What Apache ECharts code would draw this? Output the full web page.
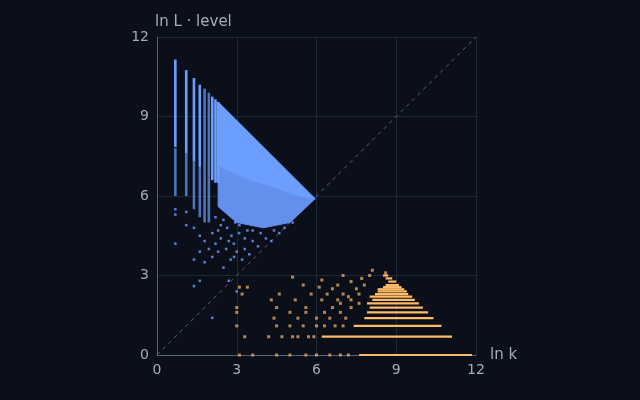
<!DOCTYPE html>
<html><head><meta charset="utf-8">
<script src="https://cdn.jsdelivr.net/npm/echarts@6/dist/echarts.min.js"></script>
<style>html,body{margin:0;background:#0a0f1a}#c{width:640px;height:400px}</style>
</head><body><div id="c"></div>
<script>
// blue columns: [ln k, low, high]
var blueCols=[[0.69,7.85,11.15],[1.10,7.6,10.75],[1.39,7.3,10.45],[1.61,7.1,10.2],[1.79,6.9,10.05],[1.95,6.7,9.9],[2.08,6.6,9.75],[2.20,6.5,9.65],[2.30,6.5,9.55],
  [0.69,6.0,7.8],[1.10,6.0,7.6],[1.39,5.5,7.3],[1.61,5.2,7.1],[1.79,5.0,6.9],[1.95,5.0,6.7]];
// blue dense region outline (bright upper part, textured lower part)
var blueArea=[[2.3,9.55],[5.95,5.9],[5.3,6.0],[4.5,6.3],[3.5,6.6],[2.6,7.0],[2.3,7.2]];
var blueLow=[[2.3,7.2],[2.6,7.0],[3.5,6.6],[4.5,6.3],[5.3,6.0],[5.95,5.9],[5.0,5.0],[4.0,4.8],[3.0,5.0],[2.3,5.6]];
// scattered blue points [ln k, ln L]
var blueDots=[[0.69,5.5],[0.69,5.3],[0.69,4.2],[1.10,5.4],[1.10,4.9],[1.39,4.8],[1.39,3.6],[1.39,2.6],[1.61,4.5],[1.61,3.9],[1.61,2.8],[1.79,4.3],[1.79,3.5],[1.95,4.0],[2.08,3.7],[2.08,4.6],[2.08,1.4],[2.2,4.2],[2.2,5.2],[2.3,3.9],[2.3,4.7],[2.4,4.4],[2.5,3.3],[2.5,5.1],[2.6,4.0],[2.64,4.8],[2.7,2.8],[2.77,3.6],[2.8,4.5],[2.89,4.2],[2.94,5.0],[3.0,3.9],[3.0,2.4],[3.09,4.6],[3.2,3.6],[3.3,4.0],[3.4,4.7],[3.47,3.8],[3.6,4.3],[3.8,4.1],[3.9,4.6],[4.1,4.4],[4.3,4.3],[4.4,4.7],[4.6,4.6],[4.8,4.8],[5.1,5.0],[2.7,4.3],[2.4,4.9],[3.1,4.9],[3.3,4.4],[3.6,4.7],[2.9,3.7]];
// orange rows: [ln m, low, high]
var orangeRows=[[0,7.6,11.85],[0.69,6.2,11.1],[1.10,7.4,10.7],[1.39,7.8,10.4],[1.61,7.9,10.2],[1.79,8.0,10.0],[1.95,7.9,9.85],[2.08,8.1,9.7],[2.20,8.0,9.6],[2.30,8.2,9.45],[2.40,8.3,9.4],[2.48,8.3,9.3],[2.56,8.5,9.2],[2.64,8.6,9.1],[2.77,8.7,9.0],[2.89,8.6,8.85],[3.0,8.5,8.7]];
// scattered orange points [ln k, ln L]
var orangeDots=[[3.1,0],[3.6,0],[4.5,0],[5.0,0],[5.6,0],[6.0,0],[6.5,0],[6.9,0],[7.2,0],[3.3,0.69],[4.2,0.69],[4.7,0.69],[5.1,0.69],[5.3,0.69],[5.7,0.69],[5.9,0.69],[3.0,1.1],[4.5,1.1],[5.0,1.1],[5.5,1.1],[6.0,1.1],[6.3,1.1],[6.7,1.1],[7.0,1.1],[4.4,1.39],[5.3,1.39],[6.0,1.39],[6.5,1.39],[7.1,1.39],[3.0,1.61],[5.0,1.61],[5.6,1.61],[6.3,1.61],[6.9,1.61],[3.0,1.79],[4.5,1.79],[5.6,1.79],[6.6,1.79],[7.3,1.79],[4.3,2.08],[5.2,2.08],[6.2,2.08],[6.8,2.08],[7.3,2.08],[3.2,2.3],[4.6,2.3],[5.8,2.3],[6.4,2.3],[7.0,2.3],[7.6,2.3],[3.1,2.56],[3.4,2.56],[5.5,2.64],[6.1,2.56],[6.8,2.64],[7.3,2.77],[7.8,2.64],[5.1,2.94],[6.2,2.83],[7.0,3.0],[7.7,2.89],[8.1,3.2],[8.6,3.1],[8.0,3.0],[6.6,2.5],[7.5,2.5],[7.2,2.2],[6.9,1.95],[7.6,1.95]];
var xTicks=[0,3,6,9,12], yTicks=[0,3,6,9,12];

var BLUE='#6b9eff', BLUE2='#6390ec', ORANGE='#ffbb66';
function segSeries(data,color,vertical){
  return {type:'custom',data:data,silent:true,z:3,renderItem:function(p,api){
    var a,b;
    if(vertical){a=api.coord([api.value(0),api.value(2)]);b=api.coord([api.value(0),api.value(1)]);
      return {type:'rect',shape:{x:a[0]-1.3,y:a[1],width:2.6,height:b[1]-a[1]},style:{fill:color,opacity:api.value(1)<7.0&&api.value(0)<2?0.7:1}};}
    a=api.coord([api.value(1),api.value(0)]);b=api.coord([api.value(2),api.value(0)]);
    return {type:'rect',shape:{x:a[0],y:a[1]-1.1,width:b[0]-a[0],height:2.2},style:{fill:color}};
  }};
}
function polySeries(pts,color){
  return {type:'custom',data:[0],silent:true,z:2,renderItem:function(p,api){
    return {type:'polygon',shape:{points:pts.map(function(v){return api.coord(v);})},style:{fill:color,stroke:color,lineWidth:1}};}};
}
var chart=echarts.init(document.getElementById('c'));
var axisCommon={min:0,max:12,interval:3,
  axisLine:{show:true,lineStyle:{color:'#566175'}},axisTick:{show:false},
  splitLine:{show:true,lineStyle:{color:'#1e2738'}},
  axisLabel:{color:'#a3acbd',fontSize:14,fontFamily:'DejaVu Sans'},
  nameTextStyle:{color:'#a3acbd',fontSize:15,fontFamily:'DejaVu Sans'}};
chart.setOption({
  backgroundColor:'#0a0f1a',animation:false,
  grid:{left:157,right:164,top:37,bottom:45},
  xAxis:Object.assign({},axisCommon,{type:'value',name:'ln k',nameGap:14}),
  yAxis:Object.assign({},axisCommon,{type:'value',name:'ln L · level',nameGap:7,nameTextStyle:Object.assign({},axisCommon.nameTextStyle,{align:'left',padding:[0,0,0,-2]})}),
  series:[
    {type:'line',data:[[0,0],[12,12]],symbol:'none',silent:true,z:1,lineStyle:{color:'#55607a',width:1,type:[4,4]}},
    polySeries(blueLow,BLUE2),
    polySeries(blueArea,BLUE),
    segSeries(blueCols,BLUE,true),
    segSeries(orangeRows,ORANGE,false),
    {type:'scatter',data:blueDots,symbol:'rect',symbolSize:2.5,itemStyle:{color:BLUE,opacity:0.8},silent:true,z:4},
    {type:'scatter',data:orangeDots,symbol:'rect',symbolSize:3,itemStyle:{color:ORANGE,opacity:0.7},silent:true,z:4}
  ]
});
</script></body></html>
